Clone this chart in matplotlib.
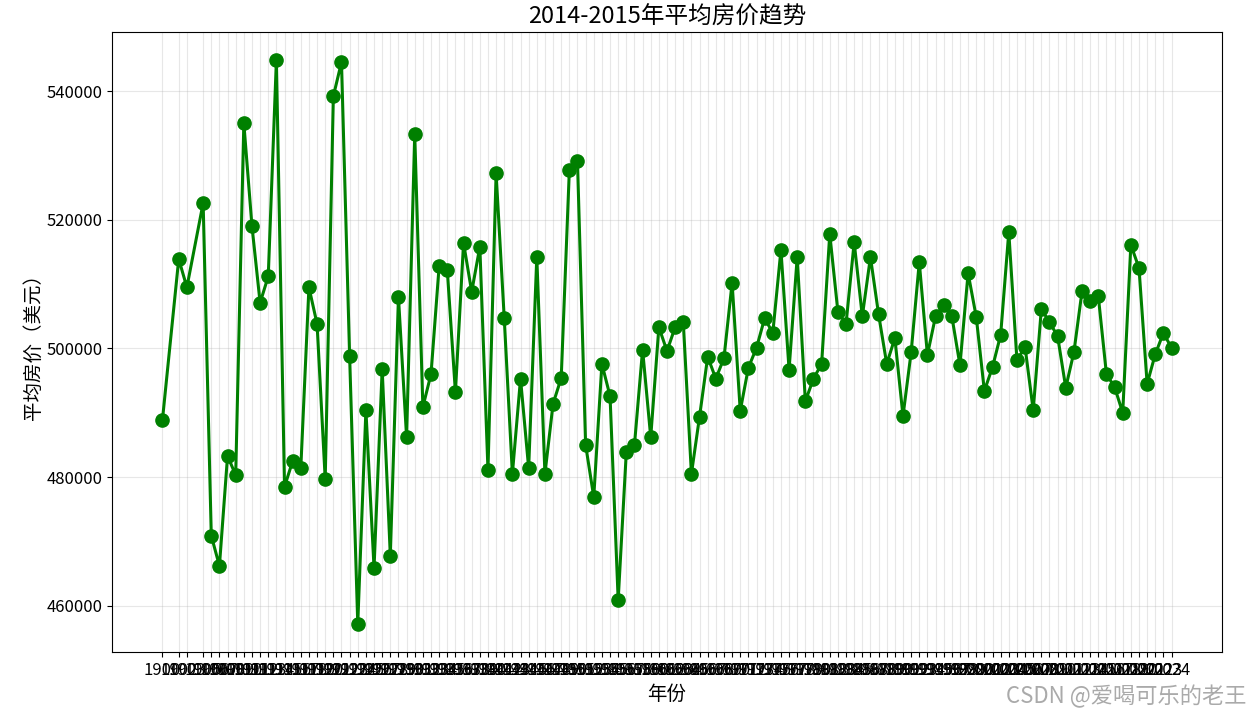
import matplotlib
matplotlib.use("Agg")
import matplotlib.pyplot as plt

plt.rcParams['font.family'] = ['Noto Sans CJK SC', 'DejaVu Sans']
plt.rcParams['axes.unicode_minus'] = False

years = [1900, 1902, 1903] + list(range(1905, 2025))
avg_price = [
    488900, 513900, 509500, 522600, 470900, 466200, 483300, 480300, 535000, 519000,
    507100, 511200, 544800, 478500, 482500, 481400, 509500, 503800, 479700, 539200,
    544500, 498800, 457200, 490400, 465900, 496800, 467800, 508000, 486200, 533300,
    490900, 496000, 512800, 512200, 493200, 516400, 508800, 515800, 481100, 527200,
    504700, 480500, 495300, 481400, 514200, 480500, 491400, 495400, 527700, 529100,
    485000, 476900, 497600, 492600, 460900, 483900, 485000, 499800, 486200, 503300,
    499600, 503300, 504100, 480500, 489400, 498700, 495300, 498500, 510200, 490300,
    497000, 500100, 504700, 502400, 515300, 496700, 514200, 491800, 495300, 497600,
    517800, 505700, 503800, 516500, 505000, 514200, 505300, 497600, 501600, 489500,
    499400, 513400, 499000, 505000, 506700, 505000, 497400, 511700, 504900, 493400,
    497100, 502100, 518100, 498200, 500200, 490400, 506100, 504100, 501900, 493900,
    499400, 508900, 507400, 508100, 496000, 494000, 490000, 516100, 512500, 494500,
    499100, 502400, 500100,
]
tick_labels = [str(y) for y in years]

title = "2014-2015年平均房价趋势"
xlabel = "年份"
ylabel = "平均房价（美元）"
watermark = "CSDN @爱喝可乐的老王"

fig = plt.figure(figsize=(12.52, 7.17), dpi=100)
ax = fig.add_axes([112 / 1252, 1 - 652 / 717, 1110 / 1252, 620 / 717])

ax.plot(years, avg_price, color='green', linewidth=2.2, marker='o', markersize=9.5)
ax.set_xticks(years)
ax.set_xticklabels(tick_labels, fontsize=12)
ax.tick_params(axis='y', labelsize=12)
ax.grid(True, alpha=0.3)
ax.set_title(title, fontsize=17)
ax.set_xlabel(xlabel, fontsize=14)
ax.set_ylabel(ylabel, fontsize=14, labelpad=2)

fig.text(0.996, 0.012, watermark, ha='right', va='bottom', fontsize=16, color='#aaaaaa')

fig.savefig("out.png", dpi=100)
